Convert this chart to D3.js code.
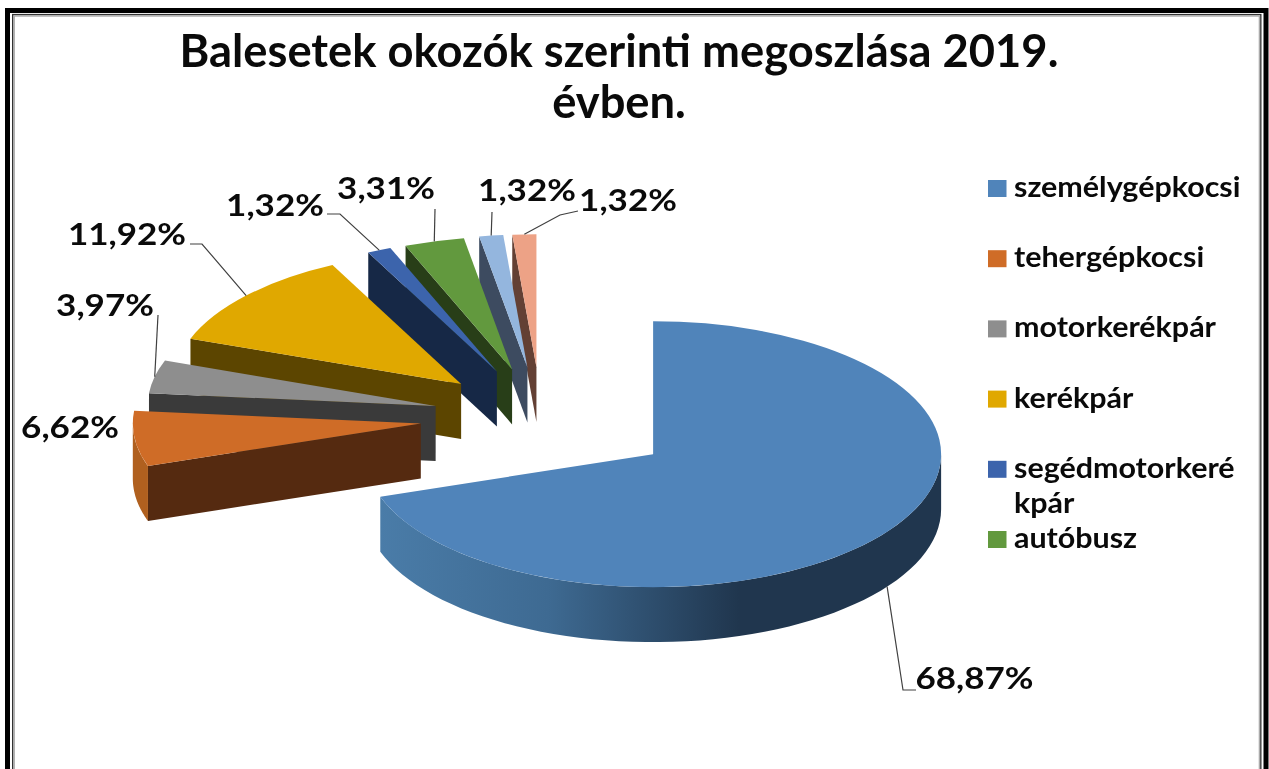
<!DOCTYPE html>
<html>
<head>
<meta charset="utf-8">
<title>Balesetek okozók szerinti megoszlása</title>
<script src="https://cdn.jsdelivr.net/npm/d3@7"></script>
<style>
    html, body { margin: 0; padding: 0; background: #fff; }
    svg { display: block; filter: blur(0.5px); }
    text { font-family: Lato, "Open Sans", sans-serif; fill: #0a0a0a; }
    .title { font-size: 45.3px; font-weight: 700; }
    .legendText { font-size: 29px; font-weight: 700; }
    .pct { font-size: 31px; font-weight: 700; }
</style>
</head>
<body>
<script>
//chart data
var titleLines = ["Balesetek okozók szerinti megoszlása 2019.", "évben."];
var values = [68.87, 6.62, 3.97, 11.92, 1.32, 3.31, 1.32, 1.32];
var pctLabels = ["68,87%", "6,62%", "3,97%", "11,92%", "1,32%", "3,31%", "1,32%", "1,32%"];
//the legend is cut off in the original, only six names are visible
var legendNames = [["személygépkocsi"], ["tehergépkocsi"], ["motorkerékpár"], ["kerékpár"], ["segédmotorkeré", "kpár"], ["autóbusz"]];

//slice colors
var topColors = ["#5084BA", "#CF6C27", "#8E8E8E", "#E0A800", "#3C64AC", "#62993E", "#94B6DE", "#EDA286"];
var sideColors = ["#20364E", "#552A10", "#3A3A3A", "#5C4500", "#162846", "#283E18", "#3D4B60", "#634034"];
var arcColors = ["url(#mainWall)", "#B0601F", "#5A5A5A", "#8A6A00", "#26407A", "#3E6026", "#5E7490", "#98685A"];

//how far each slice is pulled out of the pie
var explosion = [138, 121, 108, 107, 108, 107, 108, 108];

//label placement: center of the text, then the elbow points of the leader line
var labelPos = [[974.5, 689], [70, 438], [105, 316], [127, 245], [275, 216], [386, 199], [527, 201], [628, 211]];
var leaderBends = [
    [[916, 690], [903, 690]],
    null,
    [[158, 315]],
    [[190, 244], [202, 244]],
    [[327, 214], [340, 214]],
    [[435, 209]],
    [[492, 212]],
    [[578, 211], [560, 215]]
];

var width = 1269,
    height = 769,
    rx = 288,
    ry = 133,
    depth = 55,
    cx = 541,
    cy = 417,
    pctStretch = 1.13, //the original picture is wider than its fonts
    legendStretch = 1.05;

var svg = d3.select("body")
    .append("svg")
    .attr("width", width)
    .attr("height", height);

//gradient on the outer wall of the big slice
var grad = svg.append("defs")
    .append("linearGradient")
    .attr("id", "mainWall")
    .attr("gradientUnits", "userSpaceOnUse")
    .attr("x1", 380).attr("x2", 941)
    .attr("y1", 0).attr("y2", 0);
grad.append("stop").attr("offset", 0).attr("stop-color", "#4A7CA8");
grad.append("stop").attr("offset", 0.3).attr("stop-color", "#3E6A92");
grad.append("stop").attr("offset", 0.64).attr("stop-color", "#20364E");
grad.append("stop").attr("offset", 1).attr("stop-color", "#20364E");

//frame around the picture, runs off the bottom
var frameBands = [
    {left: 7.5, top: 10.5, right: 1266, w: 5, color: "#000"},
    {left: 12.7, top: 14.6, right: 1260.8, w: 1.4, color: "#333"},
    {left: 14.2, top: 16, right: 1259.4, w: 1.4, color: "#aaa"}
];
frameBands.forEach(function(b){
    svg.append("rect")
        .attr("x", b.left)
        .attr("y", b.top)
        .attr("width", b.right - b.left)
        .attr("height", 800)
        .attr("fill", "none")
        .attr("stroke", b.color)
        .attr("stroke-width", b.w);
});

var tilt = ry / rx;

//angles come from d3.pie, no sorting so the order stays as in the data
var pie = d3.pie().sort(null).value(function(d){ return d; });
var slices = pie(values).map(function(d, i){
    var mid = (d.startAngle + d.endAngle) / 2;
    d.index = i;
    d.mid = mid;
    d.tipX = cx + explosion[i] * Math.sin(mid);
    d.tipY = cy - explosion[i] * Math.cos(mid) * tilt;
    return d;
});

//point on the rim of a slice
function rim(d, a, drop){
    return [d.tipX + rx * Math.sin(a), d.tipY - ry * Math.cos(a) + (drop || 0)];
}

var line = d3.line();
var arcGen = d3.arc().innerRadius(0).outerRadius(rx);

//painter order: small back slices first, big one last
var order = [7, 6, 5, 4, 3, 2, 1, 0];

order.forEach(function(i){
    var d = slices[i];
    var g = svg.append("g").attr("class", "slice slice" + i);

    //flat cut face on the start side, only faces us on the left half
    if (Math.sin(d.startAngle) < -1e-6){
        var tipBottom = [d.tipX, d.tipY + depth];
        g.append("path")
            .attr("d", line([[d.tipX, d.tipY], rim(d, d.startAngle), rim(d, d.startAngle, depth), tipBottom]) + "Z")
            .attr("fill", sideColors[i]);
    }

    //outer wall, only where the rim looks down
    var a0 = Math.max(d.startAngle, Math.PI / 2),
        a1 = Math.min(d.endAngle, Math.PI * 1.5);
    if (a1 > a0){
        var steps = d3.range(0, 61).map(function(k){ return a0 + (a1 - a0) * k / 60; });
        var upper = steps.map(function(a){ return rim(d, a); });
        var lower = steps.slice().reverse().map(function(a){ return rim(d, a, depth); });
        g.append("path")
            .attr("d", line(upper.concat(lower)) + "Z")
            .attr("fill", arcColors[i]);
    }

    //top surface
    g.append("path")
        .attr("d", arcGen(d))
        .attr("transform", "translate(" + d.tipX + "," + d.tipY + ") scale(1," + tilt + ")")
        .attr("fill", topColors[i]);
});

//leader lines
slices.forEach(function(d, i){
    if (!leaderBends[i]) return;
    //the big slice is labelled from the bottom edge of its wall
    var start = rim(d, d.mid, i === 0 ? depth : 0);
    svg.append("path")
        .attr("d", line(leaderBends[i].concat([start])))
        .attr("fill", "none")
        .attr("stroke", "#404040")
        .attr("stroke-width", 1.2);
});

//percent labels
svg.selectAll(".pct")
    .data(pctLabels)
    .enter()
    .append("text")
    .attr("class", "pct")
    .attr("text-anchor", "middle")
    .attr("transform", function(d, i){
        return "translate(" + labelPos[i][0] + "," + labelPos[i][1] + ") scale(" + pctStretch + ",1)";
    })
    .text(function(d){ return d; });

//title
svg.selectAll(".title")
    .data(titleLines)
    .enter()
    .append("text")
    .attr("class", "title")
    .attr("text-anchor", "middle")
    .attr("x", 619)
    .attr("y", function(d, i){ return 67 + i * 51; })
    .text(function(d){ return d; });

//legend
var legendY = d3.scaleLinear().domain([0, 5]).range([180, 531]);
var legend = svg.selectAll(".legendRow")
    .data(legendNames)
    .enter()
    .append("g")
    .attr("class", "legendRow")
    .attr("transform", function(d, i){ return "translate(988," + legendY(i) + ")"; });
legend.append("rect")
    .attr("width", 18.5)
    .attr("height", 17)
    .attr("fill", function(d, i){ return topColors[i]; });
legend.append("text")
    .attr("class", "legendText")
    .attr("transform", "translate(26,17) scale(" + legendStretch + ",1)")
    .selectAll("tspan")
    .data(function(d){ return d; })
    .enter()
    .append("tspan")
    .attr("x", 0)
    .attr("dy", function(d, i){ return i ? 35 : 0; })
    .text(function(d){ return d; });
</script>
</body>
</html>
